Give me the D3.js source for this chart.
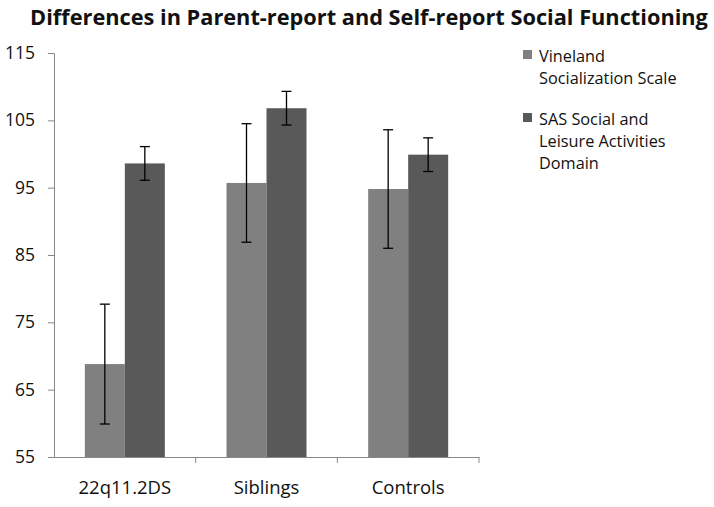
<!DOCTYPE html>
<html><head><meta charset="utf-8">
<script src="https://cdn.jsdelivr.net/npm/d3@7"></script>
<style>body{margin:0;background:#fff}text{font-family:"Open Sans",sans-serif}</style>
</head><body><svg id="c" width="714" height="507"></svg>
<script>
const categories = ["22q11.2DS", "Siblings", "Controls"];
const seriesNames = ["Vineland Socialization Scale", "SAS Social and Leisure Activities Domain"];
const vineland = [68.8, 95.7, 94.8];
const vinelandErr = [8.9, 8.8, 8.8];
const sas = [98.6, 106.8, 99.9];
const sasErr = [2.5, 2.5, 2.5];
const yTicks = [55, 65, 75, 85, 95, 105, 115];
const colors = ["#808080", "#595959"];
const legendLines = [["Vineland", "Socialization Scale"], ["SAS Social and", "Leisure Activities", "Domain"]];

const svg = d3.select("#c");
const L = 54, R = 479, T = 53, B = 457;
const x = d3.scaleBand().domain(categories).range([L, R]).padding(0);
const xs = d3.scaleBand().domain([0, 1]).range([0, 80]);
const y = d3.scaleLinear().domain([55, 115]).range([B, T]);
const FF = "'Open Sans', sans-serif";

// title
const title = svg.append("text").attr("x", 369).attr("y", 25).attr("text-anchor", "middle")
  .attr("font-weight", "bold").attr("font-size", 19).attr("fill", "#111")
  .text("Differences in Parent-report and Self-report Social Functioning");
const tw = title.node().getComputedTextLength();
title.attr("font-size", 19 * 678 / tw);

// y axis
const ya = svg.append("g").attr("transform", `translate(${L},0)`)
  .call(d3.axisLeft(y).tickValues(yTicks).tickSize(6).tickPadding(13).tickFormat(d3.format("d")));
ya.select(".domain").attr("stroke", "#888");
ya.selectAll(".tick line").attr("stroke", "#888");
ya.selectAll("text").attr("font-size", 17.5).attr("fill", "#111").attr("font-family", FF);

// x axis
const xa = svg.append("g").attr("transform", `translate(0,${B})`)
  .call(d3.axisBottom(x).tickSize(0).tickPadding(24));
xa.select(".domain").attr("stroke", "#888");
xa.selectAll("text").attr("font-size", 18.5).attr("fill", "#111").attr("font-family", FF);
// category boundary ticks
svg.append("g").selectAll("line").data(categories).join("line")
  .attr("x1", d => x(d) + x.bandwidth()).attr("x2", d => x(d) + x.bandwidth())
  .attr("y1", B).attr("y2", B + 6).attr("stroke", "#888");

const data = [];
categories.forEach((c, i) => {
  data.push({c, s: 0, v: vineland[i], e: vinelandErr[i]});
  data.push({c, s: 1, v: sas[i], e: sasErr[i]});
});
const off = (x.bandwidth() - 80) / 2;
const g = svg.append("g");
g.selectAll("rect").data(data).join("rect")
  .attr("x", d => x(d.c) + off + xs(d.s)).attr("width", xs.bandwidth())
  .attr("y", d => y(d.v)).attr("height", d => B - y(d.v))
  .attr("fill", d => colors[d.s]);

const eb = svg.append("g").attr("stroke", "#000").attr("stroke-width", 1.3);
data.forEach(d => {
  const cx = x(d.c) + off + xs(d.s) + xs.bandwidth() / 2;
  eb.append("line").attr("x1", cx).attr("x2", cx).attr("y1", y(d.v + d.e)).attr("y2", y(d.v - d.e));
  [d.v + d.e, d.v - d.e].forEach(v => eb.append("line").attr("x1", cx - 5).attr("x2", cx + 5).attr("y1", y(v)).attr("y2", y(v)));
});

// legend
const lg = svg.append("g");
const legY = [62, 125];
legendLines.forEach((lines, i) => {
  lg.append("rect").attr("x", 523).attr("y", legY[i] - 12).attr("width", 9).attr("height", 9).attr("fill", colors[i]);
  lines.forEach((t, j) => lg.append("text").attr("x", 539).attr("y", legY[i] + j * 22)
    .attr("font-size", 16.3).attr("fill", "#111").attr("font-family", FF).text(t));
});
</script></body></html>
